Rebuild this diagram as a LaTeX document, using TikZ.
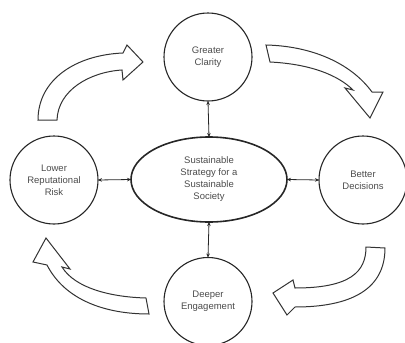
\documentclass[tikz,border=0pt]{standalone}
\usepackage{fontspec}
\setmainfont{Liberation Sans}
\usetikzlibrary{shapes.geometric,arrows.meta}
\begin{document}
\begin{tikzpicture}[x=1pt,y=-1pt,
  label font/.style={font=\fontsize{9.5}{12}\selectfont, text=black!70},
  stage/.style={circle, draw=black!85, line width=1.1pt, minimum size=88pt,
    inner sep=0pt, outer sep=0pt, align=center, label font},
  hub/.style={ellipse, draw=black!85, line width=1.6pt, minimum width=156pt,
    minimum height=85pt, inner sep=0pt, outer sep=0pt, align=center, label font},
  link/.style={{Stealth[length=4pt,width=3.6pt]}-{Stealth[length=4pt,width=3.6pt]},
    line width=0.8pt, draw=black!85},
  flow/.style={draw=black!80, line width=1pt, fill=white, line join=miter}]
\useasboundingbox (0,0) rectangle (405,343);
\clip (0,0) rectangle (405,343);

% central strategy and the four outcomes
\node[hub]   (core)  at (209,179.5) {Sustainable\\Strategy for a\\Sustainable\\Society};
\node[stage] (clar)  at (208,57)    {Greater\\Clarity};
\node[stage] (dec)   at (363,180)   {Better\\Decisions};
\node[stage] (eng)   at (208,301.5) {Deeper\\Engagement};
\node[stage] (risk)  at (54,180)    {Lower\\Reputational\\Risk};

% two-way links between the hub and each outcome
\draw[link] (clar.south) -- (core.north);
\draw[link] (core.south) -- (eng.north);
\draw[link] (risk.east)  -- (core.west);
\draw[link] (core.east)  -- (dec.west);

% hollow curved arrows forming the cycle
\path[flow] (38,120) -- (57,120)
  .. controls (58,90) and (90,72) .. (122,70)
  -- (123,80) -- (143,62) -- (127,45) -- (123,53)
  .. controls (75,55) and (38,80) .. (38,120) -- cycle;

\path[flow] (266,45) -- (270,62)
  .. controls (310,64) and (338,75) .. (353,90)
  -- (345,88) -- (370,118) -- (383,92) -- (372,92)
  .. controls (350,62) and (310,46) .. (266,45) -- cycle;

\path[flow] (366,247) -- (385,248)
  .. controls (385,290) and (350,307) .. (295,307)
  -- (287,315) -- (273,293) -- (293,280) -- (295,288)
  .. controls (350,288) and (366,272) .. (366,247) -- cycle;

\path[flow] (146,298) -- (149,314)
  .. controls (105,314) and (65,300) .. (47,265)
  -- (33,262) -- (46,238) -- (70,269) -- (62,267)
  .. controls (75,288) and (110,297) .. (146,298) -- cycle;
\end{tikzpicture}
\end{document}
